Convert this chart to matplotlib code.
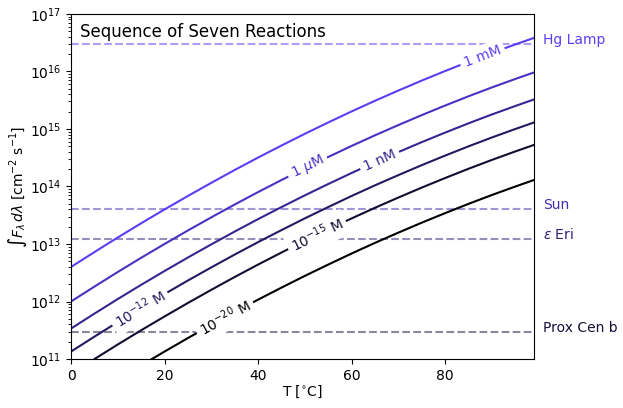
import numpy as np
import matplotlib
matplotlib.use("Agg")
import matplotlib.pyplot as plt

# Temperature grid [deg C] and log10 of the integrated photon flux needed
T = [0, 5, 10, 15, 20, 25, 30, 35, 40, 45, 50, 55, 60, 65, 70, 75, 80, 85, 90, 95, 99]
log_flux = {
    "1 mM":          [12.600, 12.859, 13.113, 13.360, 13.600, 13.835, 14.063, 14.286, 14.502, 14.711, 14.915,
                      15.112, 15.304, 15.489, 15.667, 15.840, 16.006, 16.167, 16.321, 16.468, 16.582],
    r"1 $\mu$M":     [12.000, 12.259, 12.513, 12.760, 13.000, 13.235, 13.463, 13.686, 13.902, 14.111, 14.315,
                      14.512, 14.704, 14.889, 15.067, 15.240, 15.406, 15.567, 15.721, 15.868, 15.982],
    "1 nM":          [11.530, 11.789, 12.043, 12.290, 12.530, 12.765, 12.993, 13.216, 13.432, 13.641, 13.845,
                      14.042, 14.234, 14.419, 14.597, 14.770, 14.936, 15.097, 15.251, 15.398, 15.512],
    r"10$^{-12}$ M": [11.130, 11.389, 11.643, 11.890, 12.130, 12.365, 12.593, 12.816, 13.032, 13.241, 13.445,
                      13.642, 13.834, 14.019, 14.197, 14.370, 14.536, 14.697, 14.851, 14.998, 15.112],
    r"10$^{-15}$ M": [10.740, 10.999, 11.253, 11.500, 11.740, 11.975, 12.203, 12.426, 12.642, 12.851, 13.055,
                      13.252, 13.444, 13.629, 13.807, 13.980, 14.146, 14.307, 14.461, 14.608, 14.722],
    r"10$^{-20}$ M": [10.130, 10.389, 10.643, 10.890, 11.130, 11.365, 11.593, 11.816, 12.032, 12.241, 12.445,
                      12.642, 12.834, 13.019, 13.197, 13.370, 13.536, 13.697, 13.851, 13.998, 14.112],
}
# where along each curve its label sits [deg C]
label_T = [88.0, 50.6, 66.0, 14.7, 52.6, 32.9]

# reference sources
sources = ["Hg Lamp", "Sun", r"$\epsilon$ Eri", "Prox Cen b"]
source_flux = [3e16, 4e13, 1.2e13, 3e11]

top = np.array([91, 62, 242]) / 255.0
n = len(log_flux)
curve_colors = [top * (1 - i / (n - 1)) for i in range(n)]
source_colors = [top, top * 0.72, top * 0.5, top * 0.25]

fig = plt.figure(figsize=(6.23, 4.08), dpi=100)
ax = fig.add_axes([0.114, 0.120, 0.743, 0.846])
ax.set_yscale("log")
ax.set_xlim(0, 99)
ax.set_ylim(1e11, 1e17)

for (name, vals), c in zip(log_flux.items(), curve_colors):
    ax.plot(T, 10 ** np.array(vals), color=c, lw=1.5, zorder=2)

for name, f, c in zip(sources, source_flux, source_colors):
    ax.axhline(f, color=c, ls="--", lw=1.5, alpha=0.5, zorder=1)
    ax.text(1.02, f, name, color=c, fontsize=10, va="baseline", ha="left",
            transform=ax.get_yaxis_transform())

# inline labels along the curves
for (name, vals), c, tl in zip(log_flux.items(), curve_colors, label_T):
    yl = np.interp(tl, T, vals)
    p1 = ax.transData.transform((tl - 2, 10 ** np.interp(tl - 2, T, vals)))
    p2 = ax.transData.transform((tl + 2, 10 ** np.interp(tl + 2, T, vals)))
    ang = np.degrees(np.arctan2(p2[1] - p1[1], p2[0] - p1[0]))
    ax.text(tl, 10 ** yl, name, color=c, fontsize=10, rotation=ang,
            rotation_mode="anchor", ha="center", va="center", zorder=3,
            bbox=dict(fc="white", ec="none", pad=3))

ax.set_xticks([0, 20, 40, 60, 80])
ax.set_xlabel(r"T [$^{\circ}$C]", labelpad=0.5)
ax.set_ylabel(r"$\int F_\lambda\, d\lambda$ [cm$^{-2}$ s$^{-1}$]", labelpad=0.5)
ax.text(0.02, 0.975, "Sequence of Seven Reactions", transform=ax.transAxes,
        fontsize=12, va="top", ha="left")

fig.savefig("out.png", dpi=100)
